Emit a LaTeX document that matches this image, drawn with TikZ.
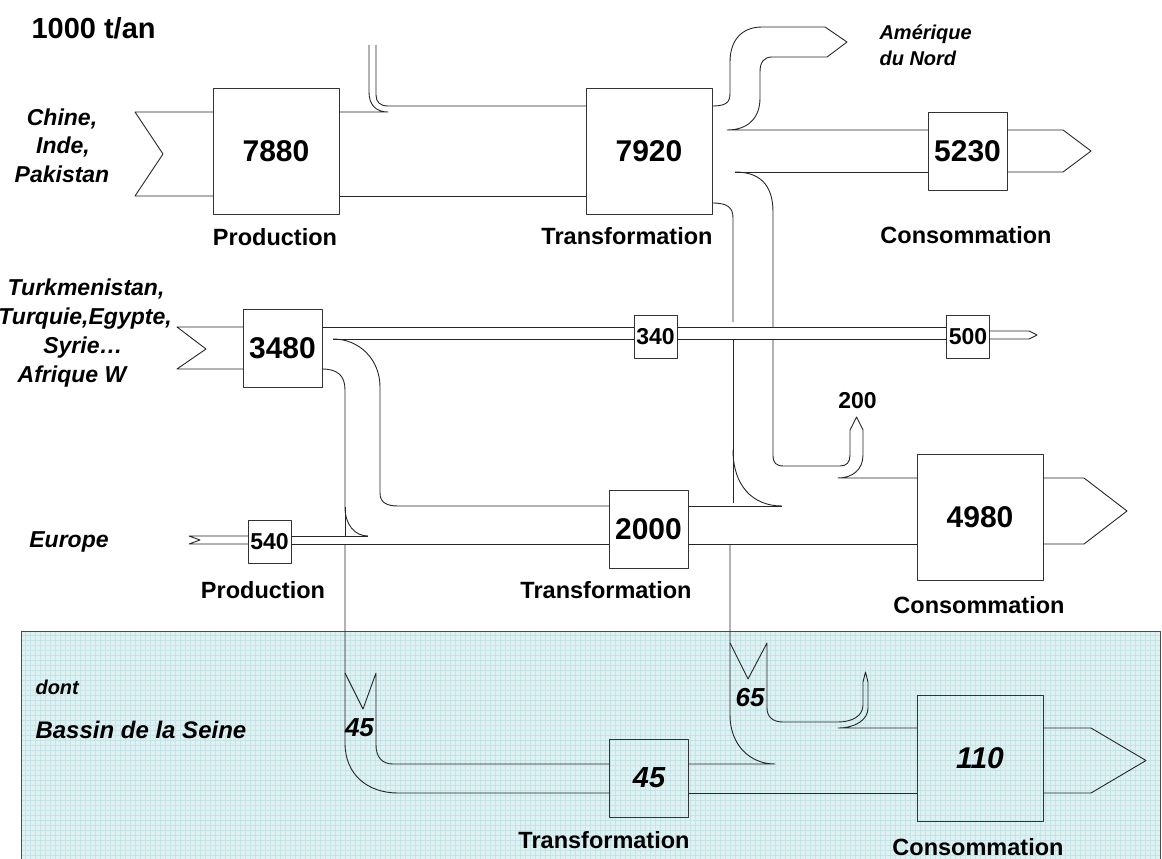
\documentclass[tikz,border=0pt]{standalone}
\usepackage{fontspec}
\setmainfont{Liberation Sans}
\definecolor{seinebg}{RGB}{222,241,243}
\definecolor{seinegrid}{RGB}{198,228,232}
\begin{document}
\begin{tikzpicture}[x=1pt,y=-1pt,line join=round,
  flow/.style={line width=0.9pt,draw=black!85},
  box/.style={draw=black!80,line width=1pt,inner sep=0pt,font=\bfseries\fontsize{30}{30}\selectfont},
  bigbox/.style={box,minimum width=126pt,minimum height=126pt},
  midbox/.style={box,minimum width=79pt,minimum height=78pt},
  smallbox/.style={box,minimum width=43pt,minimum height=43pt,font=\bfseries\fontsize{23}{23}\selectfont},
  lab/.style={font=\bfseries\fontsize{23.5}{28}\selectfont},
  src/.style={anchor=base,font=\bfseries\itshape\fontsize{23}{28}\selectfont},
  seinelab/.style={anchor=base west,font=\bfseries\itshape\fontsize{20}{24}\selectfont},
  num/.style={anchor=base,font=\bfseries\itshape\fontsize{26}{26}\selectfont}]
\useasboundingbox (0,0) rectangle (1162,859);

% Seine region
\fill[seinebg] (21,631) rectangle (1160,859);
\foreach \gx in {25,30,...,1160} \draw[seinegrid,line width=0.5pt] (\gx,631) -- (\gx,859);
\foreach \gy in {635,640,...,859} \draw[seinegrid,line width=0.5pt] (21,\gy) -- (1160,\gy);
\draw[black!70,line width=1pt] (21,859) -- (21,631) -- (1160,631) -- (1160,859);

% Boxes
\node[bigbox] (pa) at (276,151) {7880};
\node[bigbox] (ta) at (649,151) {7920};
\node[midbox] (ca) at (967.5,151) {5230};
\node[midbox] (pb) at (282.5,348.5) {3480};
\node[smallbox] (xa) at (655.5,336.5) {340};
\node[smallbox] (xb) at (968,336.5) {500};
\node[smallbox] (pc) at (269.5,541.5) {540};
\node[midbox] (tb) at (648.5,529.5) {2000};
\node[bigbox] (cb) at (980,517.5) {4980};
\node[midbox,font=\bfseries\itshape\fontsize{29}{29}\selectfont] (ts) at (649,778) {45};
\node[bigbox,font=\bfseries\itshape\fontsize{30}{30}\selectfont] (cs) at (980,758.5) {110};

% Top row flows
\draw[flow] (213,112) -- (135,112) -- (163,154) -- (135,196) -- (213,196);
\draw[flow] (339,112) -- (388,112) .. controls (376,112) and (369,105) .. (369,92) -- (369,45);
\draw[flow] (376,45) -- (376,95) .. controls (376,102) and (380,106) .. (388,106) -- (586,106);
\draw[flow] (339,196) -- (586,196);
% Amerique du Nord
\draw[flow] (712,106) .. controls (730,106) and (730,100) .. (730,90) -- (730,62)
  .. controls (730,40) and (742,27) .. (762,27) -- (825,27) -- (847,42) -- (827,57) -- (772,57)
  .. controls (764,57) and (760,62) .. (760,72) -- (760,98) .. controls (760,118) and (748,130) .. (727,130) -- (928,130);
% 5230 out
\draw[flow] (1007,130) -- (1063,130) -- (1091,151) -- (1063,172) -- (1007,172);
\draw[flow] (735,172) -- (928,172);
% downward flow from 7920
\draw[flow] (735,172) .. controls (760,172) and (773,185) .. (773,212) -- (773,327);
\draw[flow] (712,203) .. controls (727,203) and (733,207) .. (733,218) -- (733,322);
\draw[flow] (733,339) -- (733,503);
\draw[flow] (733,450) .. controls (733,485) and (752,506) .. (782,506);
\draw[flow] (773,339) -- (773,455) .. controls (773,463) and (776,466) .. (784,466) -- (840,466)
  .. controls (847,466) and (850,462) .. (850,455) -- (850,430) -- (856.5,417) -- (863,430) -- (863,455)
  .. controls (863,470) and (852,478) .. (838,478) -- (917,478);

% 3480 row
\draw[flow] (243,327) -- (177,327) -- (206,349) -- (177,369) -- (243,369);
\draw[flow] (322,327) -- (634,327);
\draw[flow] (333,339) -- (634,339);
\draw[flow] (677,327) -- (947,327);
\draw[flow] (677,339) -- (947,339);
\draw[flow] (989,331) -- (1029,331) -- (1037,335) -- (1029,339) -- (989,339);
\draw[flow] (333,339) .. controls (360,339) and (380,360) .. (380,387) -- (380,493)
  .. controls (380,502) and (386,506) .. (398,506) -- (609,506);
\draw[flow] (322,369) .. controls (338,369) and (345,376) .. (345,390) -- (345,507)
  .. controls (345,525) and (355,536) .. (368,536);
\draw[flow] (345,507) -- (345,536);

% Europe
\draw[flow] (248,536) -- (189,536) -- (200,540) -- (189,544) -- (248,544);
\draw[flow] (291,536) -- (368,536);
\draw[flow] (291,544) -- (609,544);
\draw[flow] (688,506) -- (782,506);
\draw[flow] (688,544) -- (917,544);
\draw[flow] (1043,478) -- (1084,478) -- (1127,511) -- (1084,544) -- (1043,544);

% Seine 45
\draw[flow] (345,544) -- (345,743) .. controls (345,775) and (368,793) .. (398,793) -- (610,793);
\draw[flow] (345,673) -- (363,709) -- (376,673) -- (376,745) .. controls (376,757) and (382,764) .. (393,764) -- (610,764);
% Seine 65
\draw[flow] (730,544) -- (730,715) .. controls (730,745) and (750,764) .. (775,764) -- (688,764);
\draw[flow] (730,643) -- (748,679) -- (767,643) -- (767,708) .. controls (767,717) and (773,722) .. (783,722) -- (838,722)
  .. controls (852,722) and (863,716) .. (863,705) -- (863,682) -- (865.5,672) -- (868,682) -- (868,708)
  .. controls (868,720) and (855,728) .. (838,728) -- (917,728);
\draw[flow] (688,793) -- (917,793);
\draw[flow] (1043,728) -- (1091,728) -- (1146,760.5) -- (1091,793) -- (1043,793);

% Labels
\node[anchor=base west,font=\bfseries\fontsize{29}{29}\selectfont] (unit) at (28,39) {1000 t/an};
\node[src] (s1) at (62,125) {Chine,};
\node[src] (s2) at (63,153) {Inde,};
\node[src] (s3) at (62,182) {Pakistan};
\node[src] (s4) at (86,295) {Turkmenistan,};
\node[src] (s5) at (85,324) {Turquie,Egypte,};
\node[src] (s6) at (83,353) {Syrie…};
\node[src] (s7) at (72,382) {Afrique W};
\node[src] (s8) at (69,547) {Europe};
\node[anchor=base west,font=\bfseries\itshape\fontsize{20}{26}\selectfont] (am1) at (876,40) {Amérique};
\node[anchor=base west,font=\bfseries\itshape\fontsize{20}{26}\selectfont] (am2) at (876,66) {du Nord};

\node[lab] (l1) at (275,237) {Production};
\node[lab] (l2) at (627,236) {Transformation};
\node[lab] (l3) at (966,235) {Consommation};
\node[lab] (l4) at (263,590) {Production};
\node[lab] (l5) at (606,590) {Transformation};
\node[lab] (l6) at (979,605) {Consommation};
\node[lab] (l7) at (604,840) {Transformation};
\node[lab] (l8) at (978,847) {Consommation};

\node[anchor=base,font=\bfseries\fontsize{23}{23}\selectfont] (n200) at (857.5,408) {200};
\node[num] (n45) at (359.5,736) {45};
\node[num] (n65) at (750,706) {65};
\node[seinelab] (d1) at (32,694) {dont};
\node[seinelab,font=\bfseries\itshape\fontsize{24}{24}\selectfont] (d2) at (32,738) {Bassin de la Seine};
\end{tikzpicture}
\end{document}
